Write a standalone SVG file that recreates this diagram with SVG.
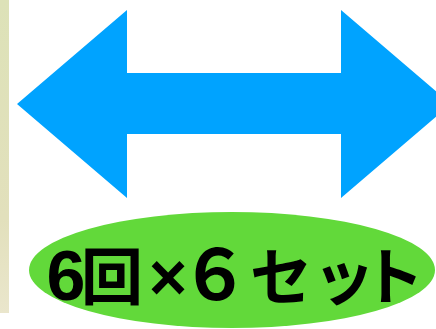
<svg xmlns="http://www.w3.org/2000/svg" width="436" height="329" viewBox="0 0 436 329">
<defs>
<linearGradient id="photo" x1="0" y1="0" x2="0" y2="1">
<stop offset="0" stop-color="#DDE2B8"/>
<stop offset="0.7" stop-color="#E2E0BC"/>
<stop offset="1" stop-color="#EAE6CC"/>
</linearGradient>
</defs>
<style>
.arrow{fill:#00A3FF}
.badge{fill:#62D93A}
.label{font-family:"Noto Sans CJK JP","Noto Sans",sans-serif;font-weight:bold;font-size:62px;fill:#000;text-anchor:middle}
.num{font-family:"Liberation Sans","Noto Sans CJK JP",sans-serif;font-size:70px}
.x{font-family:"Liberation Sans","Noto Sans CJK JP",sans-serif;font-size:66px}
</style>
<rect x="0" y="0" width="436" height="329" fill="#FFFFFF"/>
<rect x="0" y="0" width="9" height="313" fill="url(#photo)"/>
<g id="arrow">
<polygon class="arrow" points="17,104 127,10 127,73 341,73 341,10 451,104 341,198 341,134 127,134 127,198"/>
</g>
<g id="badge">
<ellipse class="badge" cx="232" cy="270" rx="203" ry="58"/>
<text class="label" y="300"><tspan class="num" x="66">6</tspan><tspan x="112">回</tspan><tspan class="x" x="168">×</tspan><tspan class="num" x="215">６</tspan><tspan x="281">セ</tspan><tspan x="344">ッ</tspan><tspan x="393">ト</tspan></text>
</g>
</svg>
